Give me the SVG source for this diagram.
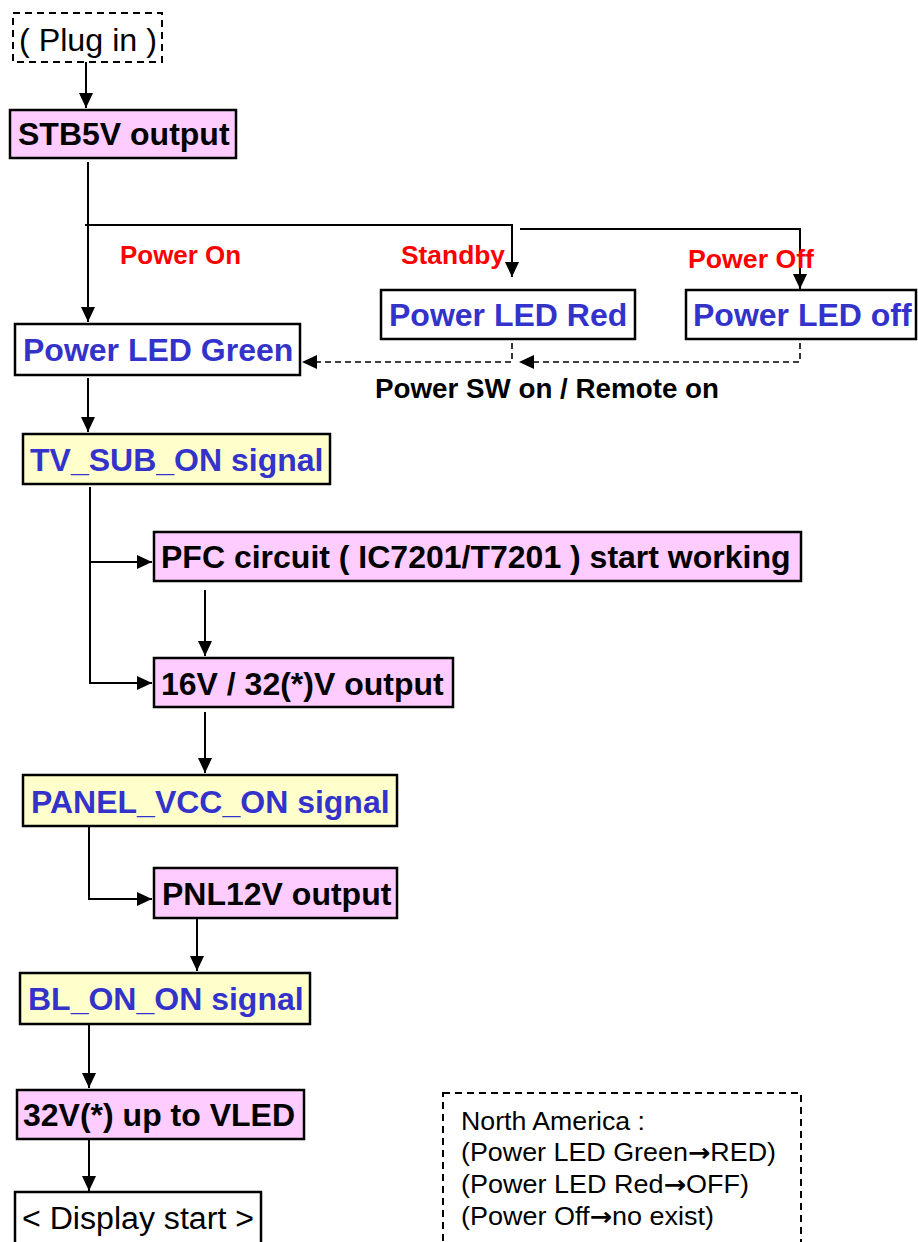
<svg xmlns="http://www.w3.org/2000/svg" width="918" height="1242" viewBox="0 0 918 1242">
<style>
.box{stroke:#000;stroke-width:2.5}
.pink{fill:#FFCCFF}
.yel{fill:#FFFFCC}
.wht{fill:#FFFFFF}
.dash{fill:#FFFFFF;stroke:#000;stroke-width:2;stroke-dasharray:7 5}
.tb{font-family:"Liberation Sans",Arial,sans-serif;font-weight:bold;font-size:32px;fill:#000}
.tblue{font-family:"Liberation Sans",Arial,sans-serif;font-weight:bold;font-size:32px;fill:#3333CC}
.tr{font-family:"Liberation Sans",Arial,sans-serif;font-size:31px;fill:#000}
.red{font-family:"Liberation Sans",Arial,sans-serif;font-weight:bold;font-size:25px;fill:#FF0000}
.lbl{font-family:"Liberation Sans",Arial,sans-serif;font-weight:bold;font-size:27px;fill:#000}
.note{font-family:"Liberation Sans",Arial,sans-serif;font-size:25px;fill:#000}
.arr{font-family:"DejaVu Sans",sans-serif;font-weight:bold}
.ln{fill:none;stroke:#000;stroke-width:2}
.dl{fill:none;stroke:#000;stroke-width:1.6;stroke-dasharray:6 4}
</style>
<defs>
<marker id="ah" markerUnits="userSpaceOnUse" markerWidth="16" markerHeight="14" refX="15" refY="7" orient="auto">
<path d="M0,0 L15,7 L0,14 z" fill="#000"/>
</marker>
</defs>
<g id="connectors">
<path class="ln" d="M86,62 V108" marker-end="url(#ah)"/>
<path class="ln" d="M88,162 V322" marker-end="url(#ah)"/>
<path class="ln" d="M85,225 H512 V277" marker-end="url(#ah)"/>
<path class="ln" d="M520,229 H800 V289" marker-end="url(#ah)"/>
<path class="dl" d="M512,343 V362 H302" marker-end="url(#ah)"/>
<path class="dl" d="M800,343 V362 H519" marker-end="url(#ah)"/>
<path class="ln" d="M88,378 V432" marker-end="url(#ah)"/>
<path class="ln" d="M90,487 V683 H152" marker-end="url(#ah)"/>
<path class="ln" d="M90,562 H152" marker-end="url(#ah)"/>
<path class="ln" d="M205,590 V656" marker-end="url(#ah)"/>
<path class="ln" d="M205,712 V773" marker-end="url(#ah)"/>
<path class="ln" d="M89,827 V899 H152" marker-end="url(#ah)"/>
<path class="ln" d="M197,918 V971" marker-end="url(#ah)"/>
<path class="ln" d="M89,1025 V1088" marker-end="url(#ah)"/>
<path class="ln" d="M89,1139 V1191" marker-end="url(#ah)"/>
</g>
<g id="labels">
<text class="red" x="120" y="264" textLength="121" lengthAdjust="spacingAndGlyphs">Power On</text>
<text class="red" x="401" y="264" textLength="104" lengthAdjust="spacingAndGlyphs">Standby</text>
<text class="red" x="688" y="268" textLength="126" lengthAdjust="spacingAndGlyphs">Power Off</text>
<text class="lbl" x="375" y="398" textLength="344" lengthAdjust="spacingAndGlyphs">Power SW on / Remote on</text>
</g>
<g id="plugin"><rect class="dash" x="13" y="13" width="149" height="49"/><text class="tr" x="19" y="51" textLength="138" lengthAdjust="spacingAndGlyphs">( Plug in )</text></g>
<g id="stb5v"><rect class="box pink" x="10" y="110" width="226" height="48"/><text class="tb" x="18" y="145">STB5V output</text></g>
<g id="ledgreen"><rect class="box wht" x="15" y="324" width="285" height="51"/><text class="tblue" x="23" y="361">Power LED Green</text></g>
<g id="ledred"><rect class="box wht" x="381" y="290" width="254" height="49"/><text class="tblue" x="389" y="326">Power LED Red</text></g>
<g id="ledoff"><rect class="box wht" x="686" y="290" width="230" height="49"/><text class="tblue" x="693" y="326">Power LED off</text></g>
<g id="tvsub"><rect class="box yel" x="23" y="434" width="307" height="50"/><text class="tblue" x="30" y="471">TV_SUB_ON signal</text></g>
<g id="pfc"><rect class="box pink" x="154" y="532" width="647" height="49"/><text class="tb" x="161" y="568">PFC circuit ( IC7201/T7201 ) start working</text></g>
<g id="v16"><rect class="box pink" x="154" y="658" width="299" height="49"/><text class="tb" x="161" y="695">16V / 32(*)V output</text></g>
<g id="panelvcc"><rect class="box yel" x="23" y="775" width="374" height="51"/><text class="tblue" x="31" y="813">PANEL_VCC_ON signal</text></g>
<g id="pnl12v"><rect class="box pink" x="154" y="868" width="243" height="50"/><text class="tb" x="162" y="905">PNL12V output</text></g>
<g id="blon"><rect class="box yel" x="20" y="973" width="290" height="51"/><text class="tblue" x="28" y="1010">BL_ON_ON signal</text></g>
<g id="v32"><rect class="box pink" x="17" y="1090" width="287" height="49"/><text class="tb" x="23" y="1126">32V(*) up to VLED</text></g>
<g id="display"><rect class="box wht" x="15" y="1192" width="246" height="54"/><text class="tr" x="22" y="1229" textLength="232" lengthAdjust="spacingAndGlyphs">&lt; Display start &gt;</text></g>
<g id="note"><rect class="dash" x="443" y="1093" width="358" height="154"/>
<text class="note" x="461" y="1130" textLength="184" lengthAdjust="spacingAndGlyphs">North America :</text>
<text class="note" x="461" y="1161" textLength="315" lengthAdjust="spacingAndGlyphs">(Power LED Green<tspan class="arr">→</tspan>RED)</text>
<text class="note" x="461" y="1193" textLength="288" lengthAdjust="spacingAndGlyphs">(Power LED Red<tspan class="arr">→</tspan>OFF)</text>
<text class="note" x="461" y="1225" textLength="253" lengthAdjust="spacingAndGlyphs">(Power Off<tspan class="arr">→</tspan>no exist)</text>
</g>
</svg>
